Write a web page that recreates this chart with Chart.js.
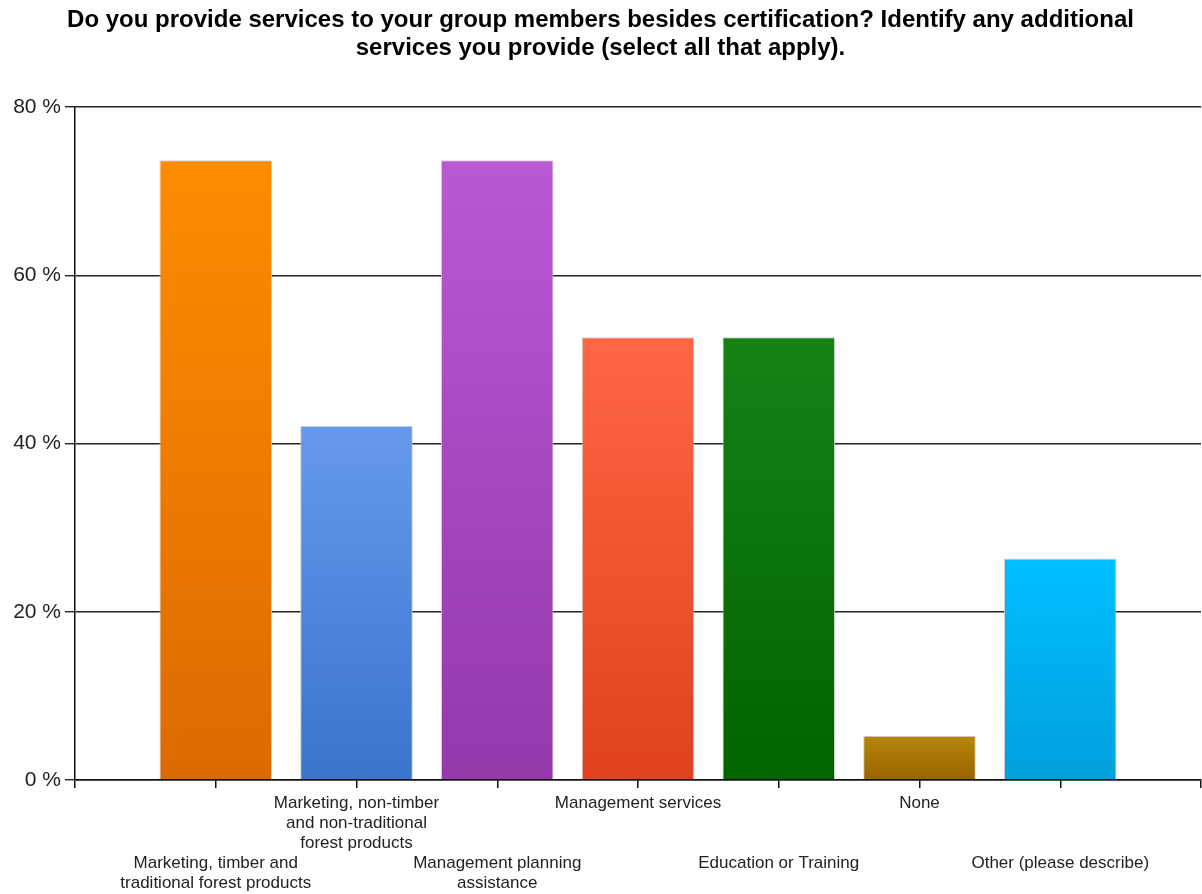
<!DOCTYPE html>
<html>
<head>
<meta charset="utf-8">
<title>Additional services</title>
<script src="https://cdn.jsdelivr.net/npm/chart.js@4"></script>
<style>
  body { margin: 0; background: #fff; }
  canvas { display: block; }
</style>
</head>
<body>
<canvas id="servicesChart" width="1202" height="894"></canvas>
<script>
// survey answers, share of respondents (19 responses)
const categories = [
    ['', '', '', 'Marketing, timber and', 'traditional forest products'],
    ['Marketing, non-timber', 'and non-traditional', 'forest products'],
    ['', '', '', 'Management planning', 'assistance'],
    ['Management services'],
    ['', '', '', 'Education or Training'],
    ['None'],
    ['', '', '', 'Other (please describe)']
];
const percentages = [73.68, 42.11, 73.68, 52.63, 52.63, 5.26, 26.32];
const yTicks = [0, 20, 40, 60, 80];

// top / bottom colour of each bar's gradient
const topColors = ['#ff8c00', '#6699ee', '#bb58d4', '#ff6644', '#168216', '#b8860b', '#00c0ff'];
const bottomColors = ['#dc6a00', '#3a74cc', '#9438aa', '#df421c', '#006400', '#986400', '#009fdd'];

// blank slots at both ends so the bars sit between axis ends
const labels = [''].concat(categories, ['']);
const values = [null].concat(percentages, [null]);

function barFill(ctx) {
    const i = ctx.dataIndex - 1;
    const chart = ctx.chart;
    if (ctx.type !== 'data' || i < 0 || i >= percentages.length) return 'transparent';
    if (!chart.chartArea) return topColors[i];
    const y = chart.scales.y;
    const g = chart.ctx.createLinearGradient(0, y.getPixelForValue(ctx.raw), 0, y.getPixelForValue(0));
    g.addColorStop(0, topColors[i]);
    g.addColorStop(1, bottomColors[i]);
    return g;
}

const labelFont = "'Liberation Sans', Arial, sans-serif";

new Chart(document.getElementById('servicesChart'), {
    type: 'bar',
    data: {
        labels: labels,
        datasets: [{
            data: values,
            backgroundColor: barFill,
            borderColor: 'rgba(205, 205, 205, 0.9)',
            borderWidth: 1,
            categoryPercentage: 1,
            barPercentage: 0.8
        }]
    },
    options: {
        responsive: false,
        animation: false,
        layout: { padding: { left: 0, right: 1, top: 0, bottom: 0 } },
        plugins: {
            legend: { display: false },
            tooltip: { enabled: false },
            title: {
                display: true,
                text: ['Do you provide services to your group members besides certification? Identify any additional',
                       'services you provide (select all that apply).'],
                color: '#000',
                font: { family: labelFont, size: 24, weight: 'bold', lineHeight: '28px' },
                padding: { top: 6, bottom: 45 }
            }
        },
        scales: {
            x: {
                offset: false,
                border: { color: '#111', width: 1.5 },
                grid: { offset: false, drawOnChartArea: false, drawTicks: true, tickLength: 8, color: '#111', lineWidth: 1.5 },
                ticks: {
                    autoSkip: false,
                    maxRotation: 0,
                    minRotation: 0,
                    padding: 5,
                    color: '#222',
                    font: { family: labelFont, size: 17, lineHeight: '20px' }
                },
                afterFit: (scale) => {
                    scale.height = 114;
                    scale.paddingLeft = 0;
                    scale.paddingRight = 0;
                }
            },
            y: {
                min: 0,
                max: 80,
                border: { color: '#111', width: 1.5 },
                grid: { color: '#222', lineWidth: 1.4, tickLength: 10 },
                afterBuildTicks: (scale) => { scale.ticks = yTicks.map(v => ({ value: v })); },
                ticks: {
                    padding: 4,
                    color: '#222',
                    font: { family: labelFont, size: 21 },
                    callback: (v) => v + ' %'
                },
                afterFit: (scale) => { scale.width = 75; }
            }
        }
    }
});
</script>
</body>
</html>
